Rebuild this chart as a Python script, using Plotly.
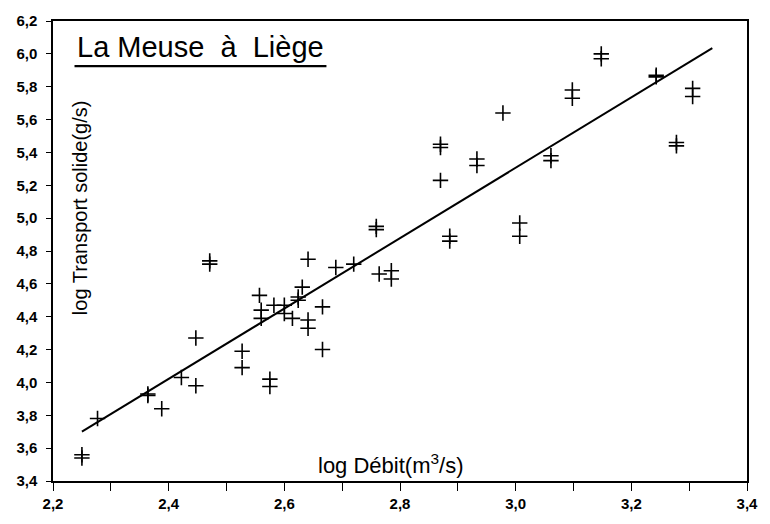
import plotly.graph_objects as go

# Observed points: log discharge (m3/s) vs log solid transport (g/s)
log_debit = [
    2.25, 2.25, 2.277, 2.364, 2.364, 2.388, 2.422, 2.447, 2.447,
    2.471, 2.471, 2.527, 2.527, 2.557, 2.560, 2.560, 2.575, 2.575,
    2.582, 2.600, 2.600, 2.614, 2.624, 2.624, 2.631, 2.641, 2.641,
    2.641, 2.666, 2.666, 2.689, 2.720, 2.759, 2.759, 2.764, 2.785,
    2.785, 2.870, 2.870, 2.870, 2.886, 2.886, 2.933, 2.933, 2.978,
    3.007, 3.007, 3.061, 3.061, 3.098, 3.098, 3.148, 3.148, 3.243,
    3.243, 3.278, 3.278, 3.306, 3.306,
]
log_transport = [
    3.54, 3.56, 3.78, 3.92, 3.93, 3.84, 4.03, 3.98, 4.27,
    4.72, 4.74, 4.19, 4.09, 4.53, 4.44, 4.39, 4.02, 3.975,
    4.47, 4.47, 4.42, 4.39, 4.50, 4.52, 4.58, 4.38, 4.33,
    4.75, 4.46, 4.20, 4.70, 4.72, 4.93, 4.95, 4.66, 4.68,
    4.63, 5.43, 5.45, 5.23, 4.89, 4.86, 5.36, 5.32, 5.64,
    4.97, 4.89, 5.38, 5.35, 5.78, 5.73, 6.00, 5.97, 5.87,
    5.86, 5.46, 5.44, 5.79, 5.74,
]

# Fitted regression line
fit_x = [2.25, 3.34]
fit_y = [3.70, 6.035]

x_ticks = [2.2, 2.4, 2.6, 2.8, 3.0, 3.2, 3.4]
y_ticks = [3.4, 3.6, 3.8, 4.0, 4.2, 4.4, 4.6, 4.8, 5.0, 5.2, 5.4, 5.6, 5.8, 6.0, 6.2]

FONT = "Liberation Sans, Arial, sans-serif"

fig = go.Figure()
fig.add_trace(go.Scatter(
    x=fit_x, y=fit_y, mode="lines",
    line=dict(color="black", width=2), hoverinfo="skip", showlegend=False,
))
fig.add_trace(go.Scatter(
    x=log_debit, y=log_transport, mode="markers",
    marker=dict(symbol="cross-thin", size=11, line=dict(color="black", width=1.6)),
    showlegend=False,
))

fig.update_layout(
    width=770, height=524,
    margin=dict(l=53, r=13, t=15, b=36),
    paper_bgcolor="white", plot_bgcolor="white",
    separators=", ",
    font=dict(family=FONT, color="black"),
    xaxis=dict(
        range=[2.2, 3.4], tickvals=x_ticks, tickformat=".1f",
        ticks="outside", ticklen=8, tickwidth=1.2, tickcolor="black",
        minor=dict(dtick=0.1, tick0=2.2, ticks="outside", ticklen=8, tickwidth=1.2, tickcolor="black"),
        showline=True, linecolor="black", linewidth=1.5, mirror=True,
        showgrid=False, zeroline=False,
        tickfont=dict(size=15, family="Liberation Sans", color="black", weight="bold"),
    ),
    yaxis=dict(
        range=[3.4, 6.2], tickvals=y_ticks, tickformat=".1f",
        ticks="outside", ticklen=5, tickwidth=1.2, tickcolor="black",
        showline=True, linecolor="black", linewidth=1.5, mirror=True,
        showgrid=False, zeroline=False, ticklabelstandoff=6,
        tickfont=dict(size=15, family="Liberation Sans", color="black", weight="bold"),
    ),
)

# Chart title (upper left, underlined)
fig.add_annotation(
    text="La Meuse  à  Liège", xref="paper", yref="paper",
    x=0.031, y=0.943, xanchor="left", yanchor="middle",
    showarrow=False, font=dict(size=29, family=FONT, color="black"),
)
fig.add_shape(type="line", xref="paper", yref="paper",
              x0=0.031, x1=0.394, y0=0.902, y1=0.902,
              line=dict(color="black", width=2.4))

# Axis titles placed inside plot area as in the original
fig.add_annotation(
    text="log Transport solide(g/s)", xref="paper", yref="paper",
    x=0.038, y=0.594, xanchor="center", yanchor="middle", textangle=-90,
    showarrow=False, font=dict(size=20, family=FONT, color="black"),
)
fig.add_annotation(
    text="log Débit(m<sup>3</sup>/s)", xref="paper", yref="paper",
    x=0.487, y=0.038, xanchor="center", yanchor="middle",
    showarrow=False, font=dict(size=22, family=FONT, color="black"),
)

fig.write_html("out.html")
